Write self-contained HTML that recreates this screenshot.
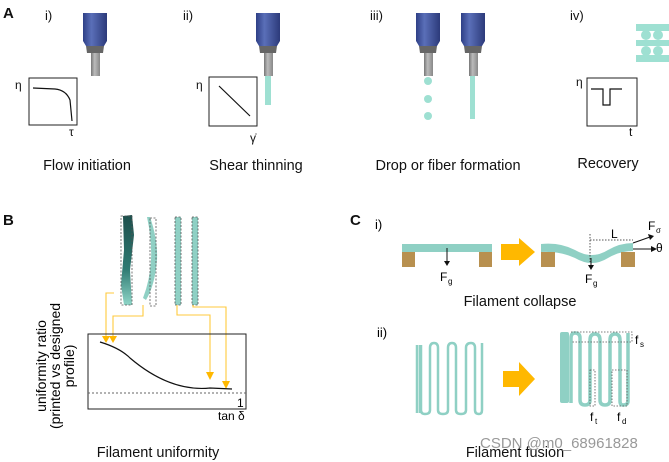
<!DOCTYPE html>
<html><head><meta charset="utf-8"><style>
html,body{margin:0;padding:0;background:#fff;width:669px;height:462px;overflow:hidden}
svg{display:block;font-family:"Liberation Sans",sans-serif}
</style></head><body>
<svg width="669" height="462" viewBox="0 0 669 462" xmlns="http://www.w3.org/2000/svg">
<defs>
<linearGradient id="blue" x1="0" x2="1" y1="0" y2="0">
<stop offset="0" stop-color="#2e3f86"/><stop offset="0.35" stop-color="#5a6fb8"/><stop offset="1" stop-color="#2c3a7a"/></linearGradient>
<linearGradient id="gray" x1="0" x2="1"><stop offset="0" stop-color="#777"/><stop offset="0.4" stop-color="#bbb"/><stop offset="1" stop-color="#888"/></linearGradient>
<linearGradient id="dark" x1="0" x2="0" y1="0" y2="1"><stop offset="0" stop-color="#1d4f4c"/><stop offset="0.6" stop-color="#2f7a72"/><stop offset="1" stop-color="#8fd6c8"/></linearGradient>
<g id="noz">
<path d="M0,0 H24 V28 L21,33 H3 L0,28 Z" fill="url(#blue)"/>
<path d="M3,33 H21 L20,40 H4 Z" fill="#666"/>
<rect x="8" y="40" width="9" height="23" fill="url(#gray)"/>
</g>
</defs>
<g font-size="13" fill="#111">
<text x="3" y="18" font-weight="bold" font-size="15">A</text>
<text x="45" y="20">i)</text><text x="183" y="20">ii)</text><text x="370" y="20">iii)</text><text x="570" y="20">iv)</text>
</g>
<use href="#noz" x="83" y="13"/>
<use href="#noz" x="256" y="13"/>
<use href="#noz" x="416" y="13"/>
<use href="#noz" x="461" y="13"/>
<rect x="265" y="76" width="6" height="29" fill="#9ee0d2"/>
<circle cx="428" cy="81" r="4" fill="#9ee0d2"/><circle cx="428" cy="99" r="4" fill="#9ee0d2"/><circle cx="428" cy="116" r="4" fill="#9ee0d2"/>
<rect x="470" y="76" width="5" height="43" fill="#9ee0d2"/>
<g fill="#9ee0d2">
<rect x="636" y="24" width="33" height="7"/><rect x="636" y="40" width="33" height="6"/><rect x="636" y="55" width="33" height="7"/>
<circle cx="646" cy="35" r="5"/><circle cx="658" cy="35" r="5"/><circle cx="646" cy="51" r="5"/><circle cx="658" cy="51" r="5"/>
</g>
<g fill="none" stroke="#222" stroke-width="1">
<rect x="29" y="78" width="48" height="47"/>
<rect x="209" y="77" width="48" height="49"/>
<rect x="587" y="78" width="50" height="48"/>
</g>
<g fill="none" stroke="#111" stroke-width="1.2">
<path d="M33,88 L55,89 Q66,90 70,100 L72,121"/>
<path d="M219,86 L250,116"/>
<path d="M591,89 H603 V105 H610 V89 H622"/>
</g>
<g font-size="12" fill="#111">
<text x="15" y="89">η</text><text x="69" y="136">τ</text>
<text x="196" y="89">η</text><text x="250" y="142">γ̇</text>
<text x="576" y="86">η</text><text x="629" y="136">t</text>
</g>
<g font-size="14.5" fill="#111" text-anchor="middle">
<text x="87" y="170">Flow initiation</text>
<text x="256" y="170">Shear thinning</text>
<text x="448" y="170">Drop or fiber formation</text>
<text x="608" y="168">Recovery</text>
<text x="158" y="457">Filament uniformity</text>
<text x="520" y="306">Filament collapse</text>
<text x="515" y="457">Filament fusion</text>
</g>
<g font-size="15" font-weight="bold" fill="#111"><text x="3" y="225">B</text><text x="350" y="225">C</text></g>
<text x="375" y="229" font-size="13">i)</text>
<text x="377" y="337" font-size="13">ii)</text>
<!-- B filaments -->
<path d="M123,216 L132,215 L134,235 L130,270 L132,305 L124,305 L121,285 L124,250 Z" fill="url(#dark)"/>
<rect x="121" y="216" width="11" height="89" fill="none" stroke="#555" stroke-dasharray="2,1.5" stroke-width="0.8"/>
<path d="M150,217 Q158,240 157,260 Q155,285 146,300 L143,298 Q150,280 151,260 Q152,240 147,217 Z" fill="#8fd0c4"/>
<rect x="150" y="218" width="6" height="88" fill="none" stroke="#555" stroke-dasharray="2,1.5" stroke-width="0.8"/>
<rect x="175" y="217" width="6" height="88" fill="#8fd0c4" stroke="#555" stroke-dasharray="2,1.5" stroke-width="0.8"/>
<rect x="192" y="217" width="6" height="88" fill="#8fd0c4" stroke="#555" stroke-dasharray="2,1.5" stroke-width="0.8"/>
<g fill="none" stroke="#ffc93c" stroke-width="1.1">
<path d="M114,293 H106 V338"/><path d="M143,305 V316 H113 V338"/>
<path d="M177,305 V315 H210 V372"/><path d="M193,305 V307 H226 V382"/>
</g>
<g fill="#ffb800">
<path d="M102,336 H110 L106,343 Z"/><path d="M109,336 H117 L113,343 Z"/>
<path d="M206,372 H214 L210,380 Z"/><path d="M222,381 H230 L226,389 Z"/>
</g>
<rect x="88" y="334" width="158" height="75" fill="none" stroke="#222"/>
<path d="M100,342 Q120,348 130,358 Q170,392 210,388 L232,389" fill="none" stroke="#111" stroke-width="1.2"/>
<line x1="88" y1="393" x2="246" y2="393" stroke="#666" stroke-dasharray="2,2"/>
<text x="237" y="407" font-size="12">1</text>
<text x="218" y="420" font-size="12">tan δ</text>
<g font-size="14" text-anchor="middle" transform="translate(60,366) rotate(-90)">
<text x="0" y="-14">uniformity ratio</text><text x="0" y="0">(printed vs designed</text><text x="0" y="14">profile)</text>
</g>
<!-- C i -->
<rect x="402" y="244" width="90" height="8" fill="#8fd0c4"/>
<rect x="402" y="252" width="13" height="15" fill="#b8904f"/><rect x="479" y="252" width="13" height="15" fill="#b8904f"/>
<path d="M447,248 V262" stroke="#111"/><path d="M444,261 H450 L447,266 Z" fill="#111"/>
<text x="440" y="281" font-size="12">F</text><text x="448" y="284" font-size="8">g</text>
<path d="M501,244 H519 V238 L535,252 L519,266 V260 H501 Z" fill="#ffb800"/>
<path d="M541,244 Q560,242 575,250 Q592,260 608,250 Q620,243 633,243 V251 Q620,251 608,258 Q592,268 575,258 Q560,251 541,252 Z" fill="#8fd0c4"/>
<rect x="541" y="252" width="14" height="15" fill="#b8904f"/><rect x="621" y="252" width="14" height="15" fill="#b8904f"/>
<path d="M590,234 V262" stroke="#555" stroke-dasharray="1.5,1.5"/>
<path d="M590,240 H633" stroke="#555" stroke-dasharray="1.5,1.5"/>
<path d="M591,258 V266" stroke="#111"/><path d="M588,265 H594 L591,270 Z" fill="#111"/>
<text x="585" y="283" font-size="12">F</text><text x="593" y="286" font-size="8">g</text>
<text x="611" y="238" font-size="12">L</text>
<path d="M633,243 L650,237 M633,249 H653" stroke="#111"/>
<path d="M648,234 L654,236 L650,240 Z M651,246 L657,249 L651,252 Z" fill="#111"/>
<text x="648" y="230" font-size="12">F</text><text x="656" y="233" font-size="8">σ</text>
<text x="656" y="252" font-size="12">θ</text>
<!-- C ii -->
<path d="M417,413 V345 M420,413 V345 M421,345 V410 Q421,414 425,414 Q430,414 430,410 V348 Q430,343 434,343 Q438,343 438,348 V410 Q438,414 443,414 Q448,414 448,410 V348 Q448,343 452,343 Q456,343 456,348 V410 Q456,414 461,414 Q466,414 466,410 V348 Q466,343 471,343 Q475,343 475,348 V410 Q475,414 479,414 Q482,414 482,410 V343" fill="none" stroke="#8fd0c4" stroke-width="2.5"/>
<path d="M503,371 H519 V362 L535,379 L519,396 V387 H503 Z" fill="#ffb800"/>
<rect x="560" y="332" width="9" height="71" rx="2" fill="#8fd0c4"/>
<path d="M571,403 V338 Q571,333 575,333 Q580,333 580,338 V400 Q580,405 585,405 Q590,405 590,400 V340 Q590,334 595,334 Q600,334 600,340 V400 Q600,405 605,405 Q610,405 610,400 V340 Q610,334 615,334 Q620,334 620,340 V401 Q620,405 623,405 Q628,405 628,401 V333" fill="none" stroke="#8fd0c4" stroke-width="3.5"/>
<g fill="none" stroke="#555" stroke-dasharray="1.5,1.5" stroke-width="0.8">
<path d="M571,332 H632 V342 H571"/>
<rect x="590" y="370" width="5" height="36"/><rect x="612" y="370" width="15" height="36"/>
</g>
<text x="635" y="344" font-size="12">f</text><text x="640" y="347" font-size="8">s</text>
<text x="590" y="421" font-size="12">f</text><text x="595" y="424" font-size="8">t</text>
<text x="617" y="421" font-size="12">f</text><text x="622" y="424" font-size="8">d</text>
<text x="480" y="448" font-size="15" fill="#999">CSDN @m0_68961828</text>
</svg>
</body></html>
